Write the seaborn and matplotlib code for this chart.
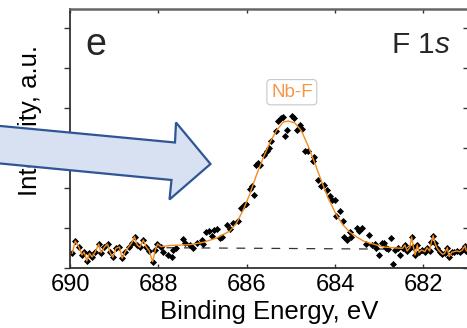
import matplotlib
matplotlib.use("Agg")
import matplotlib.pyplot as plt
from matplotlib.patches import Polygon
import seaborn as sns

sns.set_theme(style="white")
plt.rcParams['font.family'] = ['Liberation Sans', 'DejaVu Sans']
plt.rcParams['mathtext.fontset'] = 'custom'
plt.rcParams['mathtext.rm'] = 'Liberation Sans'
plt.rcParams['mathtext.it'] = 'Liberation Sans:italic'

# -------------------------------------------------------------------
# Data
# -------------------------------------------------------------------
# noisy region on the high binding energy side (data + envelope follow each other)
left_E = [689.95, 689.88, 689.80, 689.73, 689.68, 689.62, 689.56, 689.50, 689.43,
          689.35, 689.30, 689.22, 689.15, 689.10, 689.03, 688.96, 688.88, 688.82,
          688.75, 688.67, 688.60, 688.54, 688.48, 688.42, 688.34, 688.28, 688.21,
          688.13, 688.07, 688.02, 687.94]
left_I = [14.7, 27, 21, 13, 16, 7, 14.7, 11, 16,
          24, 15.3, 21, 24, 16, 10.7, 19.7, 21, 9.7,
          16.3, 21.3, 25.3, 31.3, 23, 20.7, 28, 21.3, 17.3,
          6.3, 18, 24, 21.3]

# measured points around the Nb-F peak
peak_E = [687.90, 687.78, 687.69, 687.66, 687.59, 687.44, 687.40, 687.29, 687.21,
          687.13, 687.02, 686.98, 686.92, 686.85, 686.79, 686.74, 686.68, 686.61,
          686.57, 686.45, 686.38, 686.31, 686.19, 686.12, 686.06, 686.02, 685.93,
          685.89, 685.84, 685.79, 685.74, 685.70, 685.61, 685.54, 685.50, 685.44,
          685.34, 685.29, 685.23, 685.17, 685.14, 685.10, 684.98, 684.93, 684.87,
          684.80, 684.75, 684.68, 684.61, 684.51, 684.48, 684.38, 684.31, 684.25,
          684.19, 684.12, 684.07, 684.00, 683.97, 683.89, 683.83, 683.80, 683.74,
          683.67, 683.63, 683.51, 683.45, 683.40, 683.29, 683.23, 683.17, 683.10,
          683.08, 683.00, 682.95, 682.90, 682.85, 682.80, 682.74, 682.70, 682.65,
          682.57, 682.53, 682.47]
peak_I = [16, 13, 11, 18.3, 19.7, 29.3, 25, 23.3, 20,
          25, 28.3, 24, 36, 37.3, 31.7, 38.3, 39.3, 30,
          30.7, 42.7, 39.3, 45, 47.3, 60, 62.7, 64, 79.3,
          81.7, 72.7, 102.7, 105, 103.3, 113.3, 116.7, 119.7, 126.7,
          136.7, 147.3, 150, 150.7, 132, 138.3, 151.7, 150, 138.3,
          142.7, 139.3, 117.3, 116.7, 107.3, 110.7, 88.3, 81.7, 82.7,
          78.3, 71.7, 68.3, 68, 51.7, 57, 47, 31.3, 28,
          36.3, 31.3, 39.7, 37, 39.7, 23.7, 33, 23, 23.7,
          19.7, 13, 25.3, 24.7, 19.7, 19, 29.7, 3.7, 18,
          20.3, 13, 19.7]

# fitted Nb-F envelope
fit_E = [687.94, 687.74, 687.29, 686.98, 686.68, 686.38, 686.23, 686.08, 685.93,
         685.78, 685.63, 685.48, 685.32, 685.17, 685.06, 684.91, 684.76, 684.61,
         684.46, 684.31, 684.16, 683.97, 683.82, 683.67, 683.51, 683.36, 683.14,
         682.91, 682.61, 682.47]
fit_I = [21.3, 22.5, 23.3, 25.7, 30, 37, 45, 58, 74,
         93, 110, 125, 138, 146, 147, 145, 137, 122,
         105, 87, 70, 53, 43, 36, 31, 27, 24,
         21, 20, 19.7]

# noisy region on the low binding energy side
right_E = [682.47, 682.42, 682.37, 682.31, 682.27, 682.23, 682.19, 682.14, 682.10,
           682.04, 681.97, 681.92, 681.86, 681.82, 681.78, 681.74, 681.69, 681.63,
           681.57, 681.52, 681.46, 681.42, 681.36, 681.31, 681.25, 681.18, 681.12,
           681.06, 681.03]
right_I = [19.7, 23, 17, 20.3, 31, 21.3, 13, 23, 15.7,
           18, 16.3, 20.3, 17, 26.3, 32.3, 24.7, 19.7, 16.3,
           13.7, 14.7, 20.3, 11.3, 15.7, 16.3, 17, 16.3, 18,
           22.3, 17]

# background
base_E = [687.94, 682.47]
base_I = [20.3, 18.8]

x_ticks = [690, 688, 686, 684, 682]
y_ticks = [0, 40, 80, 120, 160, 200, 240]

line_color = "#F28C1E"
label_color = "#F79646"

# -------------------------------------------------------------------
# Figure
# -------------------------------------------------------------------
W, H = 467, 328
fig = plt.figure(figsize=(W / 100, H / 100), dpi=100)
ax = fig.add_axes([70 / W, 60 / H, 399 / W, 259 / H])

pts_E = left_E + peak_E + right_E
pts_I = left_I + peak_I + right_I
sns.scatterplot(x=pts_E, y=pts_I, ax=ax, color="black", marker="D", s=13,
                linewidth=0, zorder=2)
sns.lineplot(x=base_E, y=base_I, ax=ax, color="#333333", lw=0.9,
             linestyle=(0, (7, 7)), zorder=1)
env_E = left_E + fit_E + right_E[1:]
env_I = left_I + fit_I + right_I[1:]
sns.lineplot(x=env_E, y=env_I, ax=ax, color=line_color, lw=1.0, sort=False,
             zorder=3)

ax.set_xlim(690, 680.97)
ax.set_ylim(0, 259)
ax.set_xticks(x_ticks)
ax.set_xticklabels([str(t) for t in x_ticks])
ax.set_yticks(y_ticks)
ax.set_yticklabels([])

ax.tick_params(axis="x", which="both", direction="in", length=3, width=1,
               color="#333333", labelsize=17, pad=4, top=True, bottom=True,
               labelcolor="black")
ax.tick_params(axis="y", which="both", direction="out", length=4, width=1,
               color="#333333", left=True, right=False)
sec = ax.secondary_yaxis("right")
sec.set_yticks(y_ticks)
sec.set_yticklabels([])
sec.tick_params(direction="in", length=4, width=1, color="#333333")

for side in ["left", "bottom"]:
    ax.spines[side].set_color("#333333")
    ax.spines[side].set_linewidth(1.3)
ax.spines["top"].set_color("#666666")
ax.spines["top"].set_linewidth(1.8)
ax.spines["right"].set_visible(False)

ax.set_xlabel("Binding Energy, eV", fontsize=18.5, labelpad=3, color="black")
ax.set_ylabel("Intensity, a.u.", fontsize=18.5, color="black", va="center")
ax.yaxis.set_label_coords(-0.10, 0.568)

ax.text(0.065, 0.822, "e", transform=ax.transAxes, fontsize=27,
        ha="center", va="baseline")
ax.text(0.880, 0.830, "F 1$\\mathit{s}$", transform=ax.transAxes, fontsize=21.5,
        ha="center", va="baseline")
ax.text(684.98, 171.3, "Nb-F", fontsize=13.5, color=label_color,
        ha="center", va="baseline",
        bbox=dict(boxstyle="round,pad=0.22,rounding_size=0.2", fc="white",
                  ec="#C8C8C8", lw=0.8))

# block arrow pointing into the panel
arrow_px = [(-10, 125), (175, 142.5), (176, 122.5), (210.5, 164),
            (169.5, 199.5), (171.5, 180), (-10, 162.5)]
arrow = Polygon([(x / W, 1 - y / H) for x, y in arrow_px], closed=True,
                transform=fig.transFigure, facecolor="#D7E1F2",
                edgecolor="#2F5597", lw=1.6, zorder=10)
fig.add_artist(arrow)

fig.savefig("out.png", dpi=100)
